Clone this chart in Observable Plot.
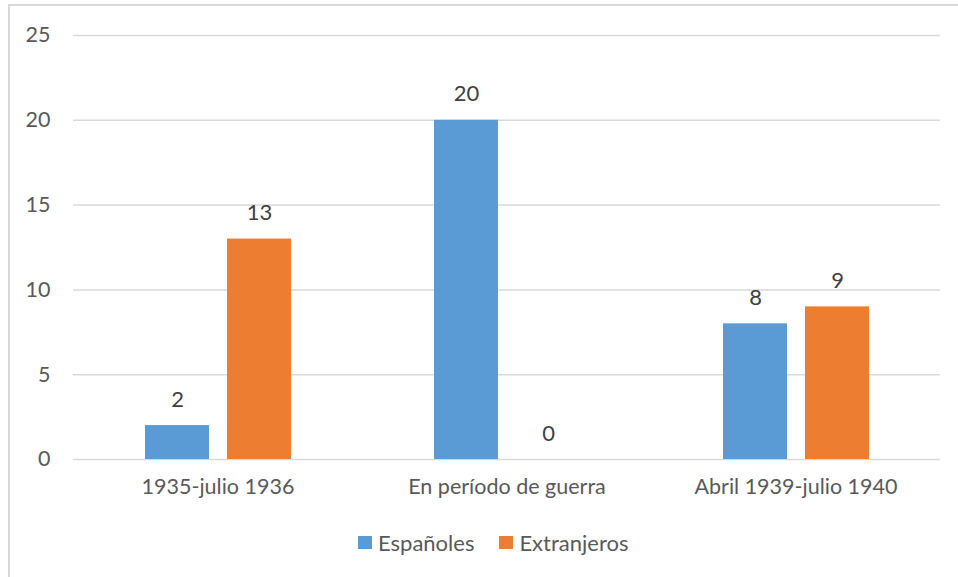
<!DOCTYPE html>
<html>
<head>
<meta charset="utf-8">
<script src="https://cdn.jsdelivr.net/npm/d3@7"></script>
<script src="https://cdn.jsdelivr.net/npm/@observablehq/plot@0.6"></script>
<style>
  html, body { margin: 0; padding: 0; background: #fff; overflow: hidden; }
  body { width: 958px; height: 577px; position: relative; font-family: Lato, "Open Sans", sans-serif; }
  #frame { position: absolute; left: 8px; top: 4px; width: 970px; height: 600px; border: 2px solid #d9d9d9; box-sizing: border-box; }
  #chart { position: absolute; left: 0; top: 0; }
  #legend { position: absolute; top: 529px; left: 358px; display: flex; align-items: center; font-size: 22px; color: #595959; }
  .sw { width: 14px; height: 13px; display: inline-block; margin-right: 6px; }
  .item { display: flex; align-items: center; margin-right: 25px; }
</style>
</head>
<body>
<div id="frame"></div>
<div id="chart"></div>
<div id="legend"></div>
<script>
const categories = ["1935-julio 1936", "En período de guerra", "Abril 1939-julio 1940"];
const series = ["Españoles", "Extranjeros"];
const espanoles = [2, 20, 8];
const extranjeros = [13, 0, 9];
const colors = ["#5B9BD5", "#ED7D31"];
const yTicks = [0, 5, 10, 15, 20, 25];

const data = [];
categories.forEach((c, i) => {
  data.push({cat: c, series: series[0], value: espanoles[i]});
  data.push({cat: c, series: series[1], value: extranjeros[i]});
});

const plot = Plot.plot({
  width: 958,
  height: 510,
  marginLeft: 73,
  marginRight: 18,
  marginTop: 35,
  marginBottom: 51,
  style: {fontFamily: "Lato, 'Open Sans', sans-serif", fontSize: "21.5px", color: "#595959", background: "transparent"},
  fx: {domain: categories, padding: 0, label: null},
  x: {domain: series, paddingInner: 0.22, paddingOuter: 0.87, axis: null},
  y: {domain: [0, 25], label: null},
  color: {domain: series, range: colors},
  marks: [
    Plot.gridY(yTicks, {stroke: "#d9d9d9", strokeOpacity: 1, strokeWidth: 1.5}),
    Plot.axisY({ticks: yTicks, tickSize: 0, tickPadding: 23, label: null, fill: "#595959", fontSize: 21.5}),
    Plot.axisFx({anchor: "bottom", tickSize: 0, tickPadding: 19, label: null, fill: "#595959", fontSize: 21.5}),
    Plot.barY(data, {fx: "cat", x: "series", y: "value", fill: "series"}),
    Plot.text(data, {fx: "cat", x: "series", y: "value", text: d => String(d.value), dy: -26, fill: "#404040", fontSize: 22})
  ]
});
document.getElementById("chart").appendChild(plot);

const legend = document.getElementById("legend");
series.forEach((s, i) => {
  const item = document.createElement("div");
  item.className = "item";
  const sw = document.createElement("span");
  sw.className = "sw";
  sw.style.background = colors[i];
  const t = document.createElement("span");
  t.textContent = s;
  item.appendChild(sw);
  item.appendChild(t);
  legend.appendChild(item);
});
</script>
</body>
</html>
